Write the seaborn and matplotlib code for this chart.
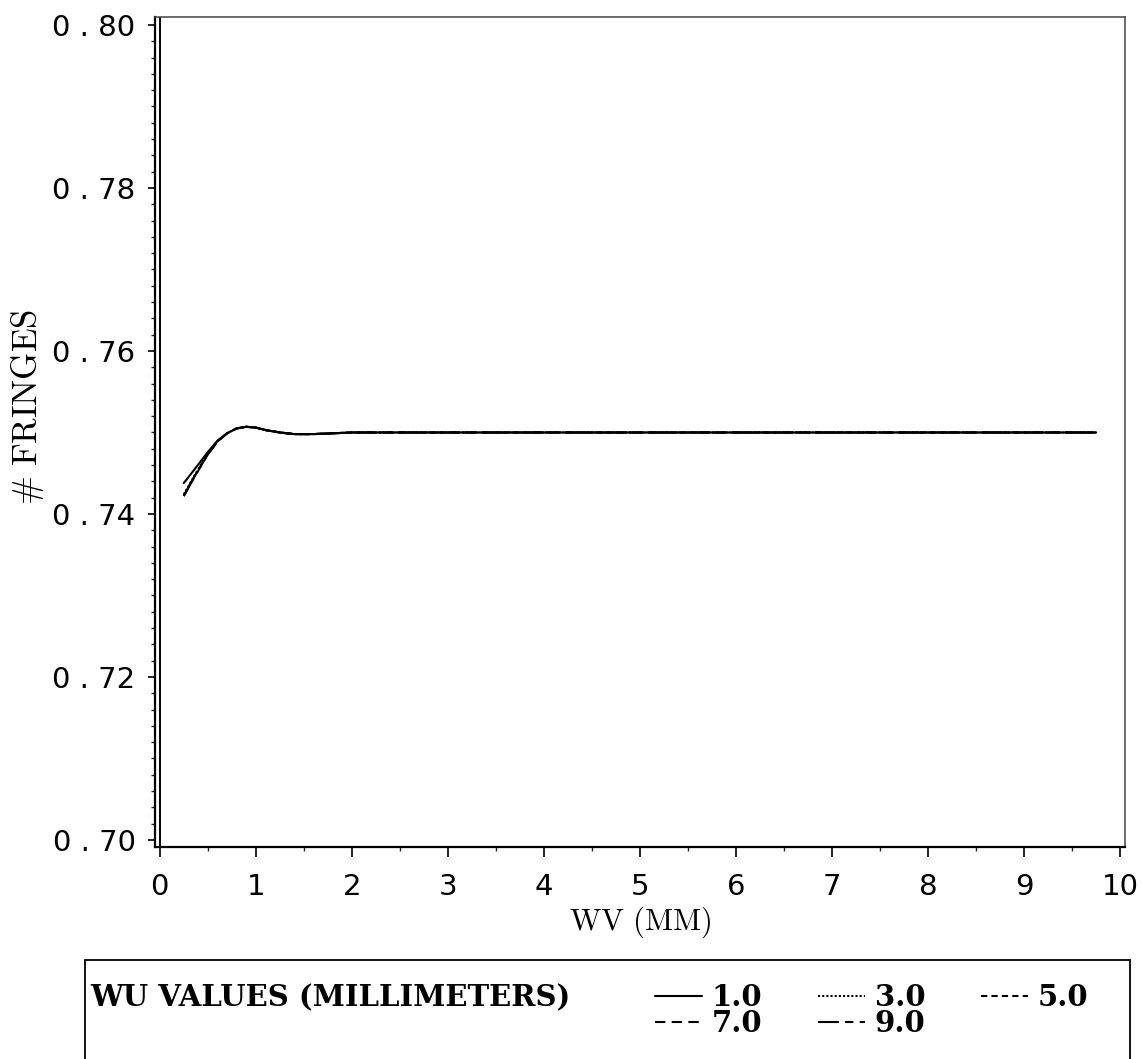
import matplotlib
matplotlib.use("Agg")
import numpy as np
import pandas as pd
import matplotlib.pyplot as plt
import seaborn as sns
from matplotlib.ticker import MultipleLocator, FuncFormatter
from matplotlib.lines import Line2D
from matplotlib.patches import Rectangle

# ---- data -------------------------------------------------------------
wv_mm = [0.25, 0.35, 0.5, 0.6, 0.7, 0.8, 0.9, 1.0, 1.1, 1.25, 1.4, 1.6,
         1.8, 2.0, 2.5, 3.0, 4.0, 5.0, 6.0, 7.0, 8.0, 9.0, 9.75]

fringes_wu1 = [0.7438, 0.7453, 0.7476, 0.7490, 0.7499, 0.7505, 0.7507, 0.7506,
               0.7503, 0.7500, 0.7498, 0.7498, 0.7499, 0.7500, 0.7500, 0.7500,
               0.7500, 0.7500, 0.7500, 0.7500, 0.7500, 0.7500, 0.7500]
fringes_wu3 = [0.7424, 0.7445, 0.7474, 0.7489, 0.7499, 0.7505, 0.7507, 0.7506,
               0.7503, 0.7500, 0.7498, 0.7498, 0.7499, 0.7500, 0.7500, 0.7500,
               0.7500, 0.7500, 0.7500, 0.7500, 0.7500, 0.7500, 0.7500]
fringes_wu5 = [0.7423, 0.7444, 0.7474, 0.7489, 0.7499, 0.7505, 0.7507, 0.7506,
               0.7503, 0.7500, 0.7498, 0.7498, 0.7499, 0.7500, 0.7500, 0.7500,
               0.7500, 0.7500, 0.7500, 0.7500, 0.7500, 0.7500, 0.7500]
fringes_wu7 = [0.7422, 0.7444, 0.7473, 0.7489, 0.7499, 0.7505, 0.7507, 0.7506,
               0.7503, 0.7500, 0.7498, 0.7498, 0.7499, 0.7500, 0.7500, 0.7500,
               0.7500, 0.7500, 0.7500, 0.7500, 0.7500, 0.7500, 0.7500]
fringes_wu9 = [0.7422, 0.7443, 0.7473, 0.7489, 0.7499, 0.7505, 0.7507, 0.7506,
               0.7503, 0.7500, 0.7498, 0.7498, 0.7499, 0.7500, 0.7500, 0.7500,
               0.7500, 0.7500, 0.7500, 0.7500, 0.7500, 0.7500, 0.7500]

wu_labels = ["1.0", "3.0", "5.0", "7.0", "9.0"]
wu_series = [fringes_wu1, fringes_wu3, fringes_wu5, fringes_wu7, fringes_wu9]

x_ticks = [0, 1, 2, 3, 4, 5, 6, 7, 8, 9, 10]
y_ticks = [0.70, 0.72, 0.74, 0.76, 0.78, 0.80]

df = pd.concat(
    [pd.DataFrame({"WV": wv_mm, "FRINGES": vals, "WU": lab})
     for lab, vals in zip(wu_labels, wu_series)],
    ignore_index=True,
)

# ---- styling ----------------------------------------------------------
sns.set_style("ticks")
plt.rcParams["font.family"] = ["DejaVu Sans"]
plt.rcParams["mathtext.fontset"] = "cm"
plt.rcParams["text.color"] = "black"
plt.rcParams["axes.labelcolor"] = "black"

dash_map = {
    "1.0": "",
    "3.0": (1, 1),
    "5.0": (3, 2),
    "7.0": (5, 3),
    "9.0": (10, 3, 4, 3),
}

W, H = 1143, 1059
fig = plt.figure(figsize=(W / 100, H / 100), dpi=100)
ax_left, ax_right, ax_top, ax_bottom = 155, 1125, 17, 847
ax = fig.add_axes([ax_left / W, 1 - ax_bottom / H,
                   (ax_right - ax_left) / W, (ax_bottom - ax_top) / H])

sns.lineplot(data=df, x="WV", y="FRINGES", hue="WU", style="WU",
             palette=["black"] * 5, dashes=dash_map, linewidth=1.5,
             legend=False, ax=ax, sort=False)
ax.axvline(0.0, color="black", linewidth=1.4)

ax.set_xlim(-0.05, 10.05)
ax.set_ylim(0.69914, 0.80098)
ax.set_xticks(x_ticks)
ax.set_yticks(y_ticks)
ax.xaxis.set_minor_locator(MultipleLocator(0.5))
ax.yaxis.set_minor_locator(MultipleLocator(0.002))
ax.yaxis.set_major_formatter(FuncFormatter(lambda v, p: f"{v:.2f}".replace(".", " . ")))
ax.xaxis.set_major_formatter(FuncFormatter(lambda v, p: f"{v:.0f}"))

ax.tick_params(axis="x", which="major", direction="out", length=7, width=1.2,
               labelsize=21, colors="black", pad=12)
ax.tick_params(axis="y", which="major", direction="out", length=5, width=1.2,
               labelsize=21, colors="black", pad=9)
ax.tick_params(axis="both", which="minor", direction="out", length=3, width=1.0)

for side in ["left", "bottom"]:
    ax.spines[side].set_linewidth(1.6)
    ax.spines[side].set_color("black")
for side in ["top", "right"]:
    ax.spines[side].set_visible(True)
    ax.spines[side].set_linewidth(1.1)
    ax.spines[side].set_color("#444444")

ax.set_xlabel(r"$\mathrm{WV\ (MM)}$", fontsize=22, labelpad=2)
ax.set_ylabel(r"$\#\ \mathrm{FRINGES}$", fontsize=25)
ax.yaxis.set_label_coords(-0.112, 0.53)

# ---- legend box -------------------------------------------------------
bold_serif = {"family": ["DejaVu Serif"], "weight": "bold", "size": 21}

fig.patches.append(Rectangle((85 / W, -0.05), (1130 - 85) / W, 0.05 + (H - 960) / H,
                             transform=fig.transFigure, fill=False,
                             edgecolor="black", linewidth=1.3))
fig.text(90 / W, 1 - 998 / H, "WU VALUES (MILLIMETERS)", fontproperties=bold_serif,
         va="center", ha="left", color="black")

handles = {lab: Line2D([], [], color="black", linewidth=1.5, linestyle="--",
                       dashes=dash_map[lab])
           for lab in wu_labels if dash_map[lab]}
handles["1.0"] = Line2D([], [], color="black", linewidth=1.5, linestyle="-")
order = ["1.0", "7.0", "3.0", "9.0", "5.0"]
leg = fig.legend([handles[k] for k in order], order,
                 ncol=3, frameon=False,
                 loc="upper left", bbox_to_anchor=(655 / W, 1 - 983 / H),
                 prop=bold_serif, labelcolor="black",
                 handlelength=1.6, handletextpad=0.35, columnspacing=1.9,
                 labelspacing=-0.1, borderpad=0.0, borderaxespad=0.0)

fig.savefig("out.png", dpi=100)
